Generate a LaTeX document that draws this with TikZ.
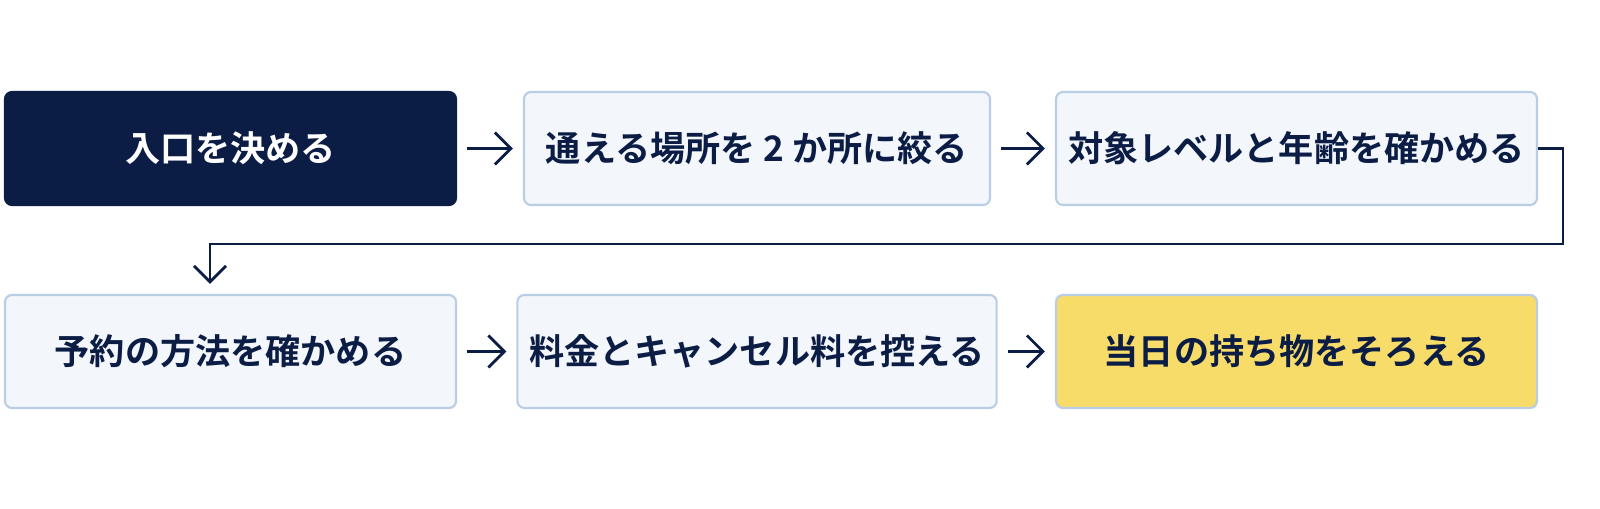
\documentclass[tikz,border=0pt]{standalone}
\usepackage{fontspec}
\setmainfont{Noto Sans CJK JP}[BoldFont={* Bold}]
\usetikzlibrary{positioning,arrows.meta}
\definecolor{navy}{HTML}{0B1D45}
\definecolor{paleblue}{HTML}{F3F7FC}
\definecolor{edgeblue}{HTML}{B9CDE5}
\definecolor{sun}{HTML}{F8DC6A}
\begin{document}
\begin{tikzpicture}[
stage/.style={rectangle, rounded corners=2pt, minimum height=1.13cm, draw=edgeblue, fill=paleblue, text=navy, font=\fontsize{10pt}{12pt}\selectfont\bfseries, line width=0.6pt},
start/.style={stage, fill=navy, draw=navy, text=white},
goal/.style={stage, fill=sun, draw=edgeblue},
flow/.style={draw=navy, line width=0.8pt, -{Straight Barb[length=1.6mm,width=3.2mm]}, shorten >=0.1cm, shorten <=0.1cm}
]
\useasboundingbox (0,0) rectangle (16,5.09);
\fill[white] (0,0) rectangle (16,5.09);
% first row
\node[start, minimum width=4.51cm] (entry) at (2.305,3.605) {入口を決める};
\node[stage, minimum width=4.66cm] (place) at (7.57,3.605) {通える場所を 2 か所に絞る};
\node[stage, minimum width=4.81cm] (level) at (12.965,3.605) {対象レベルと年齢を確かめる};
% second row
\node[stage, minimum width=4.51cm] (booking) at (2.305,1.575) {予約の方法を確かめる};
\node[stage, minimum width=4.66cm] (fee) at (7.57,1.575) {料金とキャンセル料を控える};
\node[goal, minimum width=4.81cm] (items) at (12.965,1.575) {当日の持ち物をそろえる};
% connectors
\draw[flow] (entry) -- (place);
\draw[flow] (place) -- (level);
\coordinate (turn) at (15.63,2.65);
\coordinate (drop) at (2.10,2.65);
\draw[flow, shorten <=0pt] (level.east) -| (turn) -- (drop) -- (drop |- booking.north);
\draw[flow] (booking) -- (fee);
\draw[flow] (fee) -- (items);
\end{tikzpicture}
\end{document}
